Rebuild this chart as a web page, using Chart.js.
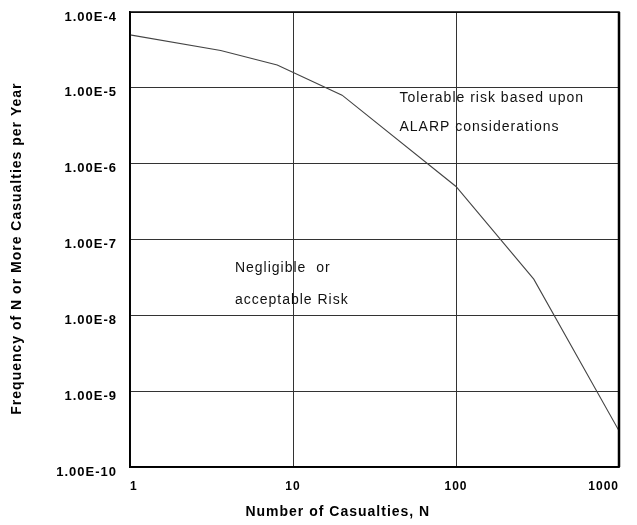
<!DOCTYPE html>
<html>
<head>
<meta charset="utf-8">
<script src="https://cdn.jsdelivr.net/npm/chart.js@4/dist/chart.umd.min.js"></script>
<style>
  html, body { margin: 0; padding: 0; background: #fff; }
  #wrap { width: 637px; height: 525px; }
</style>
</head>
<body>
<div id="wrap"><canvas id="fnChart" width="637" height="525"></canvas></div>
<script>
// F-N curve
const casualties = [1, 3.6, 8, 20, 100, 300, 1000, 1000];
const frequency = [5e-5, 3.1e-5, 2e-5, 8e-6, 5e-7, 3e-8, 3e-10, 1e-10];

const xTicks = [1, 10, 100, 1000];
const yTicks = [1e-10, 1e-9, 1e-8, 1e-7, 1e-6, 1e-5, 1e-4];

const xTitle = 'Number of Casualties, N';
const yTitle = 'Frequency of N or More Casualties per Year';

// text notes inside the plot, anchored in data units
const notes = [
    { text: 'Tolerable risk based upon', n: 45, f: 7.4e-6 },
    { text: 'ALARP considerations', n: 45, f: 3.0e-6 },
    { text: 'Negligible  or', n: 4.4, f: 4.2e-8 },
    { text: 'acceptable Risk', n: 4.4, f: 1.6e-8 }
];

function fmtExp(v) {
    const e = Math.round(Math.log10(v));
    return '1.00E' + e;
}

const frame = {
    id: 'frame',
    beforeDraw(chart) {
        // the scanned original has wide, loose lettering
        chart.ctx.letterSpacing = '1px';
    },
    afterDatasetsDraw(chart) {
        const { ctx, chartArea: a, scales } = chart;
        ctx.save();
        ctx.strokeStyle = '#000';
        ctx.lineWidth = 1.5;
        ctx.strokeRect(a.left, a.top, a.right - a.left, a.bottom - a.top);
        ctx.lineWidth = 2.5;
        ctx.beginPath();
        ctx.moveTo(a.right, a.top);
        ctx.lineTo(a.right, a.bottom);
        ctx.stroke();

        ctx.font = '14px "Liberation Sans", Arial, sans-serif';
        ctx.fillStyle = '#111';
        ctx.textBaseline = 'middle';
        notes.forEach(n => {
            ctx.fillText(n.text, scales.x.getPixelForValue(n.n), scales.y.getPixelForValue(n.f));
        });

        // axis titles sit a little off-centre in the original
        ctx.fillStyle = '#000';
        ctx.font = 'bold 14px "Liberation Sans", Arial, sans-serif';
        ctx.textAlign = 'center';
        ctx.fillText(xTitle, a.left + (a.right - a.left) * 0.425, 512);
        ctx.translate(17, a.top + (a.bottom - a.top) * 0.52);
        ctx.rotate(-Math.PI / 2);
        ctx.fillText(yTitle, 0, 0);
        ctx.restore();
    }
};

const ctx = document.getElementById('fnChart').getContext('2d');
new Chart(ctx, {
    type: 'line',
    data: {
        datasets: [{
            data: casualties.map((n, i) => ({ x: n, y: frequency[i] })),
            borderColor: '#444',
            borderWidth: 1.1,
            pointRadius: 0,
            tension: 0,
            fill: false
        }]
    },
    options: {
        responsive: false,
        animation: false,
        layout: { padding: { left: 0, right: 18, top: 12, bottom: 0 } },
        plugins: { legend: { display: false }, tooltip: { enabled: false } },
        scales: {
            x: {
                type: 'logarithmic',
                min: 1,
                max: 1000,
                afterBuildTicks: s => { s.ticks = xTicks.map(v => ({ value: v })); },
                afterFit: s => { s.height = 58; s.paddingLeft = 0; s.paddingRight = 0; },
                grid: { color: '#333', lineWidth: 1, drawTicks: false },
                border: { color: '#000', width: 1.5 },
                ticks: {
                    align: 'inner',
                    padding: 12,
                    color: '#000',
                    font: { family: '"Liberation Sans", Arial', size: 12, weight: 'bold' },
                    callback: v => String(v)
                }
            },
            y: {
                type: 'logarithmic',
                min: 1e-10,
                max: 1e-4,
                afterBuildTicks: s => { s.ticks = yTicks.map(v => ({ value: v })); },
                afterFit: s => { s.width = 130; s.paddingTop = 0; s.paddingBottom = 0; },
                grid: { color: '#333', lineWidth: 1, drawTicks: false },
                border: { color: '#000', width: 1.5 },
                ticks: {
                    padding: 13,
                    labelOffset: 5,
                    color: '#000',
                    font: { family: '"Liberation Sans", Arial', size: 13, weight: 'bold' },
                    callback: v => fmtExp(v)
                }
            }
        }
    },
    plugins: [frame]
});
</script>
</body>
</html>
